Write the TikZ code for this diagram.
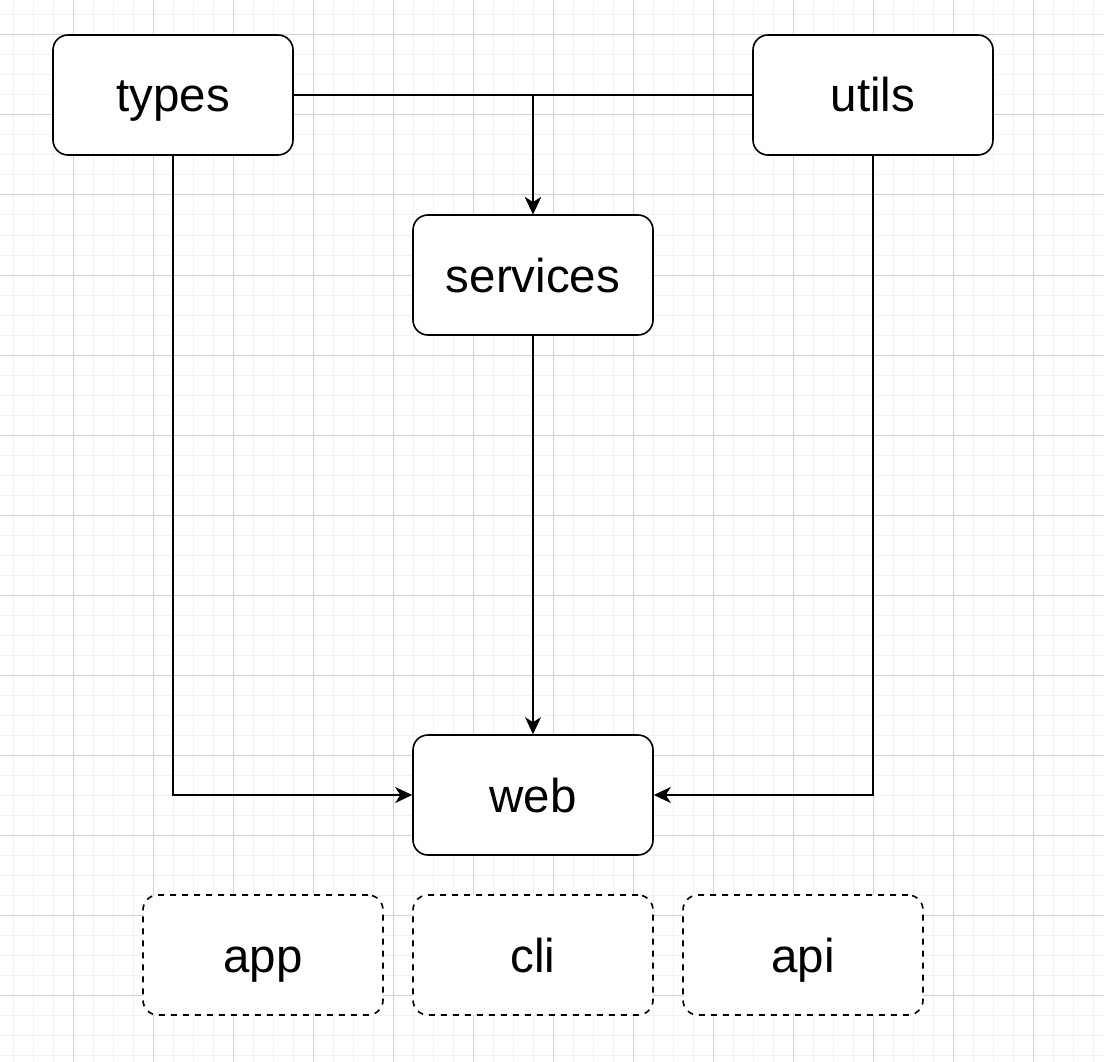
\documentclass[tikz,border=0pt]{standalone}
\usepackage{fontspec}
\setmainfont{Liberation Sans}
\usetikzlibrary{arrows.meta}
\definecolor{gridminor}{HTML}{F2F2F2}
\definecolor{gridmajor}{HTML}{D3D3D3}
\tikzset{
  gminor/.style={draw=gridminor, line width=1pt},
  gmajor/.style={draw=gridmajor, line width=1pt},
  modbox/.style={draw=black, line width=1.6pt, rounded corners=15pt, fill=white,
    minimum width=240pt, minimum height=120pt, inner sep=0pt,
    font=\fontsize{47.5}{56}\selectfont, text height=40pt, text depth=6pt},
  dashbox/.style={modbox, dash pattern=on 6pt off 6pt},
  conn/.style={draw=black, line width=1.6pt},
  arr/.style={conn, -{Stealth[length=17pt, width=16pt, inset=5pt]}},
}
\begin{document}
\begin{tikzpicture}[x=1pt, y=-1pt]
  \useasboundingbox (0,0) rectangle (1104,1062);
  \fill[white] (0,0) rectangle (1104,1062);
  % grid
  \foreach \x in {13,33,...,1104} \draw[gminor] (\x,0) -- (\x,1062);
  \foreach \y in {15,35,...,1062} \draw[gminor] (0,\y) -- (1104,\y);
  \foreach \x in {73,153,...,1104} \draw[gmajor] (\x,0) -- (\x,1062);
  \foreach \y in {35,115,...,1062} \draw[gmajor] (0,\y) -- (1104,\y);
  % modules
  \node[modbox] (types) at (173,95) {types};
  \node[modbox] (utils) at (873,95) {utils};
  \node[modbox] (services) at (533,275) {services};
  \node[modbox] (web) at (533,795) {web};
  \node[dashbox] (app) at (263,955) {app};
  \node[dashbox] (cli) at (533,955) {cli};
  \node[dashbox] (api) at (803,955) {api};
  % dependencies
  \draw[arr] (types) -| (services);
  \draw[arr] (utils) -| (services);
  \draw[arr] (services) -- (web);
  \draw[arr] (types) |- (web);
  \draw[arr] (utils) |- (web);
\end{tikzpicture}
\end{document}
